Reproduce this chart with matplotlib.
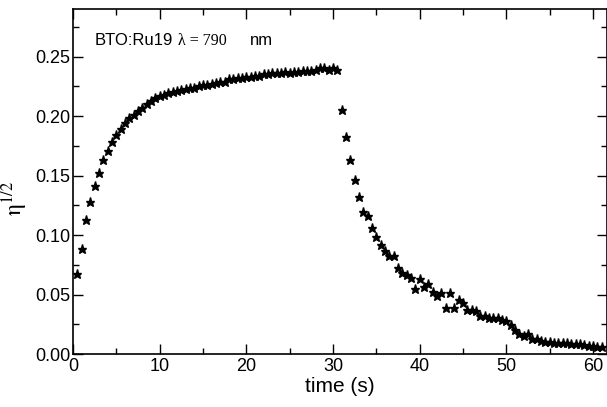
import matplotlib.pyplot as plt
from matplotlib.ticker import MultipleLocator

plt.rcParams['font.family'] = ['Liberation Sans', 'DejaVu Sans']

# Anstieg (Licht an)
t_rise = [0.5, 1.0, 1.5, 2.0, 2.5, 3.0, 3.5, 4.0, 4.5, 5.0,
          5.5, 6.0, 6.5, 7.0, 7.5, 8.0, 8.5, 9.0, 9.5, 10.0,
          10.5, 11.0, 11.5, 12.0, 12.5, 13.0, 13.5, 14.0, 14.5, 15.0,
          15.5, 16.0, 16.5, 17.0, 17.5, 18.0, 18.5, 19.0, 19.5, 20.0,
          20.5, 21.0, 21.5, 22.0, 22.5, 23.0, 23.5, 24.0, 24.5, 25.0,
          25.5, 26.0, 26.5, 27.0, 27.5, 28.0, 28.5, 29.0, 29.5, 30.0, 30.5]
eta_rise = [0.067, 0.088, 0.113, 0.128, 0.141, 0.152, 0.163, 0.171, 0.178, 0.184,
            0.189, 0.194, 0.198, 0.201, 0.204, 0.207, 0.210, 0.213, 0.215, 0.217,
            0.218, 0.219, 0.220, 0.221, 0.222, 0.223, 0.224, 0.224, 0.225, 0.226,
            0.226, 0.227, 0.228, 0.229, 0.229, 0.231, 0.231, 0.232, 0.232, 0.233,
            0.233, 0.234, 0.234, 0.235, 0.235, 0.236, 0.236, 0.236, 0.237, 0.236,
            0.237, 0.237, 0.238, 0.238, 0.238, 0.239, 0.240, 0.240, 0.239, 0.240, 0.239]

# Abfall (Licht aus)
t_decay = [31.0, 31.5, 32.0, 32.5, 33.0, 33.5, 34.0, 34.5, 35.0, 35.5,
           36.0, 36.5, 37.0, 37.5, 38.0, 38.5, 39.0, 39.5, 40.0, 40.5,
           41.0, 41.5, 42.0, 42.5, 43.0, 43.5, 44.0, 44.5, 45.0, 45.5,
           46.0, 46.5, 47.0, 47.5, 48.0, 48.5, 49.0, 49.5, 50.0, 50.5,
           51.0, 51.5, 52.0, 52.5, 53.0, 53.5, 54.0, 54.5, 55.0, 55.5,
           56.0, 56.5, 57.0, 57.5, 58.0, 58.5, 59.0, 59.5, 60.0, 60.5, 61.0]
eta_decay = [0.205, 0.182, 0.163, 0.146, 0.132, 0.119, 0.116, 0.106, 0.098, 0.092,
             0.087, 0.082, 0.082, 0.072, 0.068, 0.066, 0.064, 0.055, 0.063, 0.056,
             0.059, 0.052, 0.049, 0.051, 0.039, 0.051, 0.039, 0.045, 0.043, 0.037,
             0.037, 0.036, 0.032, 0.032, 0.030, 0.030, 0.030, 0.029, 0.028, 0.024,
             0.020, 0.017, 0.015, 0.017, 0.013, 0.0125, 0.011, 0.010, 0.010, 0.0095,
             0.0095, 0.009, 0.009, 0.0088, 0.0085, 0.008, 0.0075, 0.007, 0.0065, 0.006, 0.0055]

fig = plt.figure(figsize=(6.07, 4.07), dpi=100)
ax = fig.add_axes([0.1203, 0.1302, 0.8797, 0.8477])

ax.plot(t_rise, eta_rise, linestyle='none', marker='*', markersize=6.5, color='black')
ax.plot(t_decay, eta_decay, linestyle='none', marker='*', markersize=6.5, color='black')

ax.set_xlim(0, 61.6)
ax.set_ylim(0, 0.29)
ax.xaxis.set_major_locator(MultipleLocator(10))
ax.xaxis.set_minor_locator(MultipleLocator(5))
ax.yaxis.set_major_locator(MultipleLocator(0.05))
ax.yaxis.set_minor_locator(MultipleLocator(0.025))
ax.yaxis.set_major_formatter(plt.FormatStrFormatter('%.2f'))

ax.tick_params(which='both', direction='in', top=True, right=True, width=1, labelsize=13)
ax.tick_params(which='major', length=7)
ax.tick_params(which='minor', length=4)
ax.tick_params(axis='x', pad=3)
ax.tick_params(axis='y', pad=2)
for sp in ax.spines.values():
    sp.set_linewidth(1.2)

ax.set_xlabel('time (s)', fontsize=15, labelpad=1)
ax.set_ylabel(r'$\mathrm{\eta}^{\mathrm{1/2}}$', fontsize=17, math_fontfamily='stix')
ax.yaxis.set_label_coords(-0.08, 0.45)

# Beschriftung
ax.text(0.041, 0.896, 'BTO:Ru19', transform=ax.transAxes, fontsize=12, va='baseline')
ax.text(0.197, 0.896, 'λ = 790', transform=ax.transAxes, fontsize=11.5,
        family='Liberation Serif', va='baseline')
ax.text(0.331, 0.896, 'nm', transform=ax.transAxes, fontsize=12, va='baseline')

fig.savefig('out.png', dpi=100)
